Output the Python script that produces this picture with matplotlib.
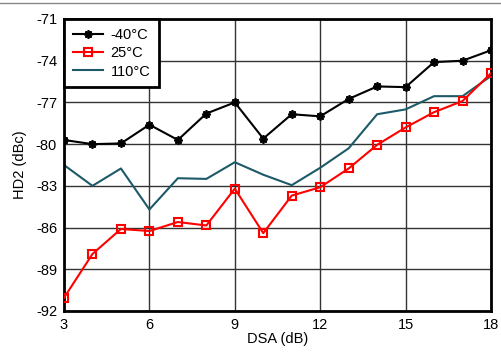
import matplotlib
matplotlib.use("Agg")
import matplotlib.pyplot as plt
from matplotlib.lines import Line2D

plt.rcParams['font.family'] = ['Liberation Sans', 'DejaVu Sans']

dsa = [3, 4, 5, 6, 7, 8, 9, 10, 11, 12, 13, 14, 15, 16, 17, 18]
hd2_m40 = [-79.7, -80.0, -79.95, -78.6, -79.7, -77.8, -77.0, -79.6, -77.85, -78.0,
           -76.75, -75.85, -75.9, -74.1, -74.0, -73.25]
hd2_25 = [-91.05, -87.9, -86.1, -86.25, -85.6, -85.85, -83.2, -86.4, -83.7, -83.1,
          -81.75, -80.05, -78.8, -77.7, -76.9, -74.9]
hd2_110 = [-81.5, -83.0, -81.75, -84.7, -82.45, -82.5, -81.3, -82.2, -82.95, -81.7,
           -80.3, -77.85, -77.5, -76.55, -76.55, -75.1]
xticks = [3, 6, 9, 12, 15, 18]
yticks = [-71, -74, -77, -80, -83, -86, -89, -92]

FS = 10.5
fig = plt.figure(figsize=(5.02, 3.52), dpi=100)
ax = fig.add_axes([64/502, 41/352, 427/502, 292/352])

ax.plot(dsa, hd2_m40, color='black', lw=1.5, marker=(8, 2, 0), ms=6,
        mfc='black', mec='black', mew=1.3, label='-40°C', zorder=4)
ax.plot(dsa, hd2_25, color='red', lw=1.5, marker='s', ms=5.5,
        mfc='none', mec='red', mew=1.5, label='25°C', zorder=3)
ax.plot(dsa, hd2_110, color='#1c5a68', lw=1.5, label='110°C', zorder=2)

ax.set_xlim(3, 18)
ax.set_ylim(-92, -71)
ax.set_xticks(xticks)
ax.set_yticks(yticks)
ax.set_yticklabels([str(v) for v in yticks])
ax.grid(True, color='#333333', lw=1)
ax.tick_params(length=0, labelsize=FS, pad=5)
for s in ax.spines.values():
    s.set_linewidth(2)
    s.set_color('black')
ax.set_xlabel('DSA (dB)', fontsize=FS, labelpad=0)
ax.set_ylabel('HD2 (dBc)', fontsize=FS, labelpad=6)

leg = ax.legend(loc='upper left', fontsize=FS, frameon=True, fancybox=False,
                borderaxespad=0, handlelength=2.1, labelspacing=0.3,
                borderpad=0.6, handletextpad=0.5)
leg.get_frame().set_edgecolor('black')
leg.get_frame().set_linewidth(2)
leg.get_frame().set_alpha(1)

fig.add_artist(Line2D([0, 1], [1 - 2.5/352, 1 - 2.5/352], color='#888888', lw=1,
                      transform=fig.transFigure))

fig.savefig('out.png', dpi=100)
